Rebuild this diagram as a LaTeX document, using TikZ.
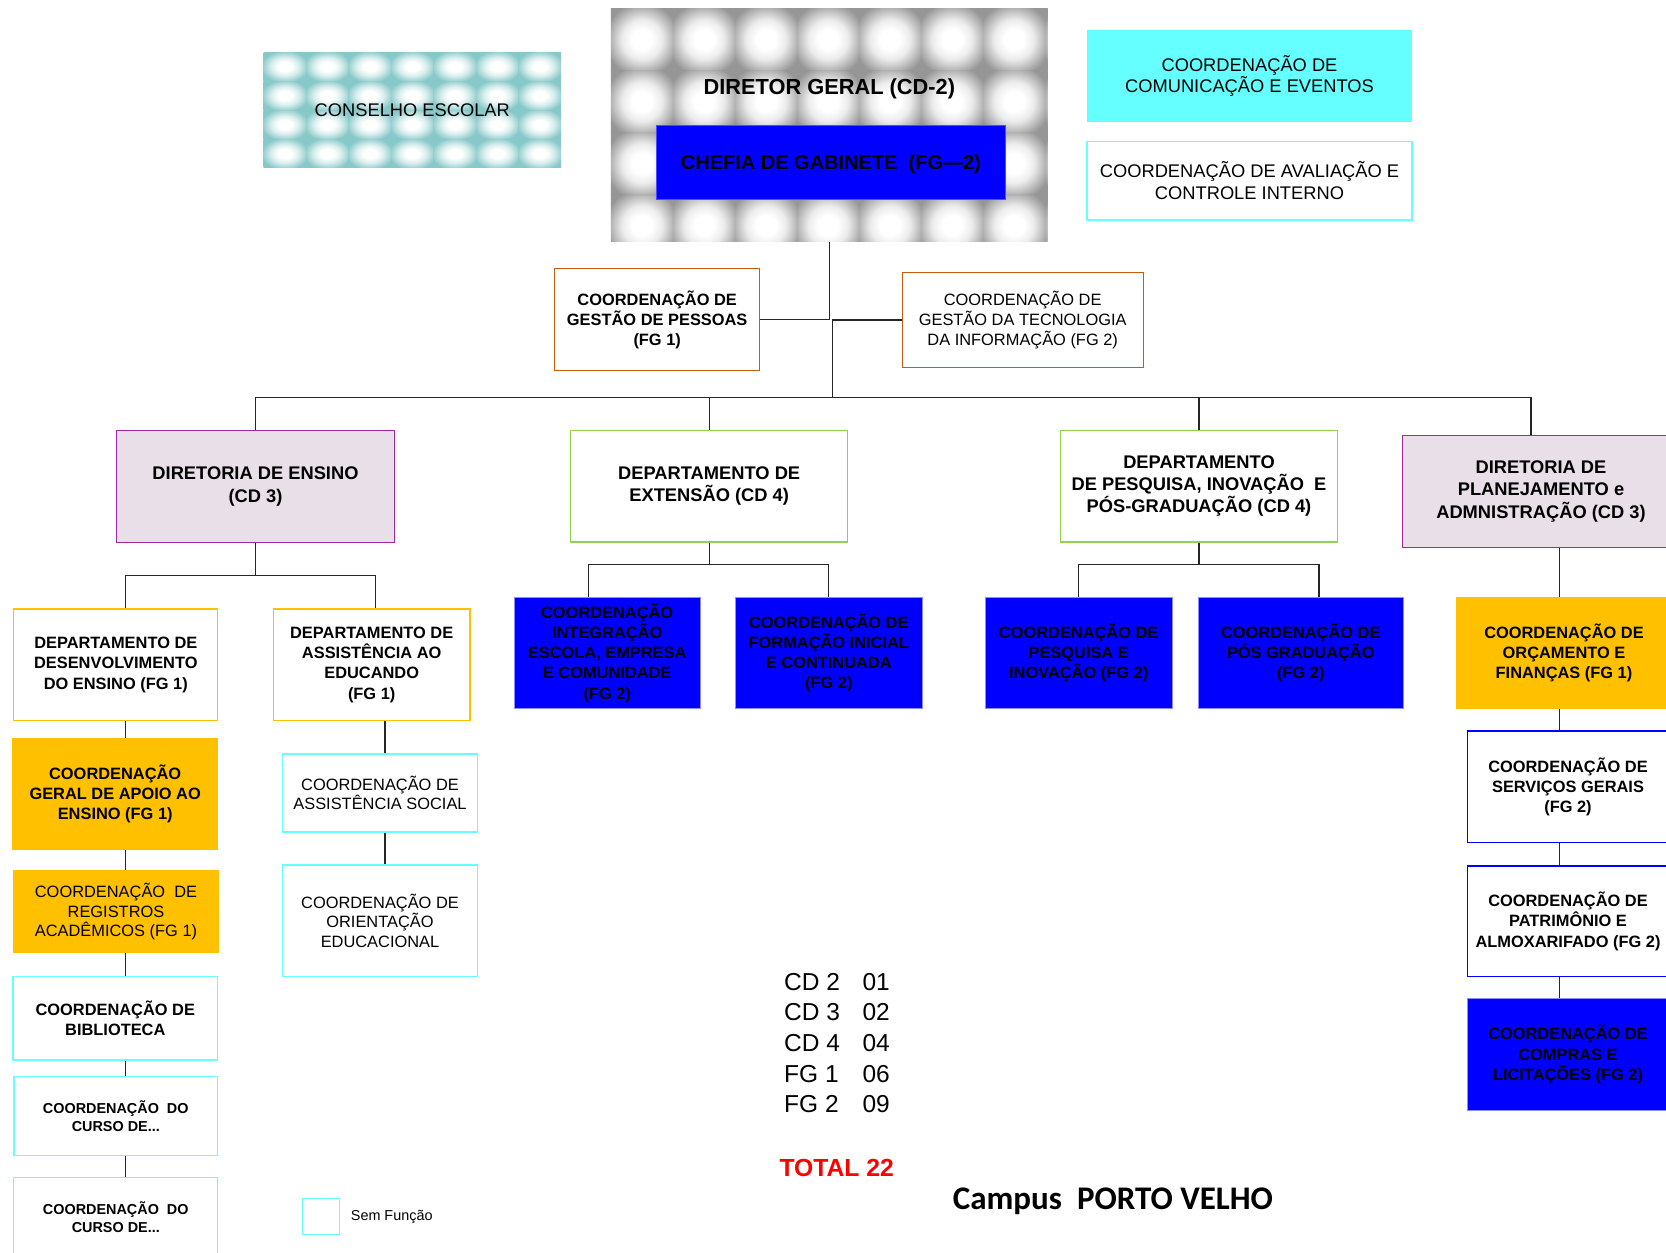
\documentclass[tikz,border=0pt]{standalone}
\usepackage{fontspec}
\setmainfont{Liberation Sans}
\newfontfamily\campusfont{Carlito}

\definecolor{lilac}{RGB}{232,223,232}
\definecolor{purpleline}{RGB}{160,40,160}
\definecolor{greenline}{RGB}{146,208,80}
\definecolor{amber}{RGB}{255,192,0}
\definecolor{rust}{RGB}{197,90,17}
\definecolor{aqua}{RGB}{102,255,255}
\definecolor{pureblue}{RGB}{0,0,255}
\definecolor{councilteal}{RGB}{135,200,200}
\definecolor{groove}{RGB}{150,150,150}

% pillow shadings for the two textured boxes
\pgfdeclareradialshading{pillowgray}{\pgfpoint{0bp}{0bp}}{color(0bp)=(white); color(8bp)=(white); color(16bp)=(gray!15); color(30bp)=(groove); color(50bp)=(groove)}
\pgfdeclareradialshading{pillowteal}{\pgfpoint{0bp}{0bp}}{color(0bp)=(white); color(8bp)=(white); color(16bp)=(councilteal!30); color(28bp)=(councilteal); color(50bp)=(councilteal)}

\newcommand{\dirfont}{\fontsize{18.3}{22.3}\selectfont\bfseries}
\newcommand{\coordfont}{\fontsize{16.4}{20.2}\selectfont\bfseries}
\newcommand{\plainfont}{\fontsize{16.4}{19.6}\selectfont}

\tikzset{
  box/.style={align=center, inner sep=2pt, line width=1.2pt},
  dirbox/.style={box, draw=purpleline, fill=lilac, font=\dirfont},
  deptbox/.style={box, draw=greenline, fill=white, font=\dirfont},
  yellowbox/.style={box, draw=amber, fill=white, font=\coordfont},
  amberbox/.style={box, draw=amber, fill=amber},
  bluebox/.style={box, draw=blue!45!white, line width=0.8pt, fill=pureblue, font=\coordfont},
  freebox/.style={box, draw=aqua},
  rustbox/.style={box, draw=rust, fill=white},
  outlinebox/.style={box, draw=pureblue, fill=white, font=\coordfont},
  link/.style={line width=1.2pt, draw=black!85}
}

\begin{document}
\begin{tikzpicture}[x=1pt,y=-1pt]
  \useasboundingbox (0,0) rectangle (1666,1253);

  % top row
  \node[box, minimum width=297.5pt, minimum height=115.8pt, font=\fontsize{18.3}{22}\selectfont,
    path picture={
      \fill[councilteal] (path picture bounding box.south west) rectangle (path picture bounding box.north east);
      \foreach \i in {0,...,6} \foreach \j in {0,...,3}
        \shade[shading=pillowteal] ([shift={(\i*42.5,\j*29)}]path picture bounding box.north west) rectangle ++(42.5,29);
    }] (conselho) at (412.3,110) {CONSELHO ESCOLAR};

  \node[box, minimum width=436.7pt, minimum height=232.7pt,
    path picture={
      \fill[groove] (path picture bounding box.south west) rectangle (path picture bounding box.north east);
      \foreach \i in {0,...,7} \foreach \j in {0,...,3}
        \shade[shading=pillowgray] ([shift={(\i*62,\j*62)}]path picture bounding box.north west) rectangle ++(62,62);
    }] (diretor) at (829.3,124.8) {};
  \node[font=\fontsize{21.8}{24}\selectfont\bfseries] (diretortxt) at (829.3,89) {DIRETOR GERAL (CD-2)};
  \node[box, draw=blue!70!white, line width=0.8pt, fill=pureblue, minimum width=348.5pt, minimum height=74.4pt,
    text depth=0pt, font=\fontsize{20}{24}\selectfont\bfseries] (chefia) at (830.9,162.6) {CHEFIA DE GABINETE~~(FG---2)};

  \node[box, fill=aqua, minimum width=325pt, minimum height=92.4pt, font=\fontsize{18.3}{21.3}\selectfont]
    (comunic) at (1249.5,76) {COORDENAÇÃO DE\\COMUNICAÇÃO E EVENTOS};
  \node[freebox, fill=white, minimum width=325pt, minimum height=78.6pt, font=\fontsize{18.3}{21.3}\selectfont]
    (avalia) at (1249.5,180.6) {COORDENAÇÃO DE AVALIAÇÃO E\\CONTROLE INTERNO};

  \node[rustbox, minimum width=205pt, minimum height=102pt, font=\coordfont]
    (pessoas) at (657.2,319.8) {COORDENAÇÃO DE\\GESTÃO DE PESSOAS\\(FG 1)};
  \node[rustbox, minimum width=241.2pt, minimum height=94.6pt, font=\plainfont]
    (tecnologia) at (1022.7,320) {COORDENAÇÃO DE\\GESTÃO DA TECNOLOGIA\\DA INFORMAÇÃO (FG 2)};

  % directorates and departments
  \node[dirbox, minimum width=278pt, minimum height=111.5pt] (ensino) at (255.5,486.5) {DIRETORIA DE ENSINO\\(CD 3)};
  \node[deptbox, minimum width=277.3pt, minimum height=111.6pt] (extensao) at (709.2,486.1) {DEPARTAMENTO DE\\EXTENSÃO (CD 4)};
  \node[deptbox, minimum width=277.3pt, minimum height=111.6pt] (pesqdep) at (1199,486.1) {DEPARTAMENTO\\DE PESQUISA, INOVAÇÃO~~E\\PÓS-GRADUAÇÃO (CD 4)};
  \node[dirbox, minimum width=277pt, minimum height=111.6pt] (plan) at (1541,491.4) {DIRETORIA DE\\PLANEJAMENTO e\\ADMNISTRAÇÃO (CD 3)};

  % ensino branch
  \node[yellowbox, minimum width=204pt, minimum height=111.7pt] (desenv) at (115.8,664.8) {DEPARTAMENTO DE\\DESENVOLVIMENTO\\DO ENSINO (FG 1)};
  \node[yellowbox, minimum width=196.7pt, minimum height=111.7pt] (educ) at (371.7,664.8) {DEPARTAMENTO DE\\ASSISTÊNCIA AO\\EDUCANDO\\(FG 1)};
  \node[amberbox, font=\coordfont, minimum width=205pt, minimum height=110pt] (apoio) at (115.2,794) {COORDENAÇÃO\\GERAL DE APOIO AO\\ENSINO (FG 1)};
  \node[amberbox, font=\plainfont, minimum width=205.7pt, minimum height=82pt] (registros) at (116,911.7) {COORDENAÇÃO~~DE\\REGISTROS\\ACADÊMICOS (FG 1)};
  \node[freebox, font=\coordfont, minimum width=204.7pt, minimum height=83.3pt] (biblio) at (115.3,1018.3) {COORDENAÇÃO DE\\BIBLIOTECA};
  \node[freebox, font=\fontsize{14.4}{18}\selectfont\bfseries, minimum width=203.7pt, minimum height=79pt] (cursoA) at (115.8,1116.2) {COORDENAÇÃO~ DO\\CURSO DE...};
  \node[freebox, font=\fontsize{14.4}{18}\selectfont\bfseries, minimum width=204pt, minimum height=79pt] (cursoB) at (115.8,1216.7) {COORDENAÇÃO~ DO\\CURSO DE...};
  \node[freebox, font=\plainfont, minimum width=194.7pt, minimum height=78pt] (social) at (380,793) {COORDENAÇÃO DE\\ASSISTÊNCIA SOCIAL};
  \node[freebox, font=\plainfont, minimum width=194.7pt, minimum height=111.7pt] (orient) at (380,920.8) {COORDENAÇÃO DE\\ORIENTAÇÃO\\EDUCACIONAL};

  % extensao and pesquisa branches
  \node[bluebox, minimum width=186pt, minimum height=111.6pt] (integra) at (607.2,653) {COORDENAÇÃO\\INTEGRAÇÃO\\ESCOLA, EMPRESA\\E COMUNIDADE\\(FG 2)};
  \node[bluebox, minimum width=187pt, minimum height=111.6pt] (formacao) at (828.8,653) {COORDENAÇÃO DE\\FORMAÇÃO INICIAL\\E CONTINUADA\\(FG 2)};
  \node[bluebox, minimum width=187.3pt, minimum height=111.6pt] (pesqinov) at (1078.7,653) {COORDENAÇÃO DE\\PESQUISA E\\INOVAÇÃO (FG 2)};
  \node[bluebox, minimum width=205pt, minimum height=111.6pt] (posgrad) at (1300.8,653) {COORDENAÇÃO DE\\PÓS GRADUAÇÃO\\(FG 2)};

  % planejamento branch
  \node[amberbox, font=\coordfont, minimum width=214.6pt, minimum height=111.6pt] (orcamento) at (1564,652.9) {COORDENAÇÃO DE\\ORÇAMENTO E\\FINANÇAS (FG 1)};
  \node[outlinebox, minimum width=201.4pt, minimum height=111.6pt] (servicos) at (1568,786.8) {COORDENAÇÃO DE\\SERVIÇOS GERAIS\\(FG 2)};
  \node[outlinebox, minimum width=201.4pt, minimum height=110.4pt] (patrimonio) at (1568,921.2) {COORDENAÇÃO DE\\PATRIMÔNIO E\\ALMOXARIFADO (FG 2)};
  \node[bluebox, minimum width=201.4pt, minimum height=111.6pt] (compras) at (1568,1054.5) {COORDENAÇÃO DE\\COMPRAS E\\LICITAÇÕES (FG 2)};

  % connectors
  \coordinate (bus) at (832.5,397.4);
  \coordinate (dropP) at (1531,397.4);
  \draw[link] (diretor.south) |- (pessoas.east);
  \draw[link] (tecnologia.west) -| (bus);
  \draw[link] (ensino.north |- bus) -- (dropP) -- (dropP |- plan.north);
  \foreach \n in {ensino, extensao, pesqdep}
    \draw[link] (\n.north |- bus) -- (\n.north);

  \coordinate (colL) at (125.5,0);
  \coordinate (colE) at (375.7,0);
  \coordinate (colS) at (385,0);
  \coordinate (ensJ) at (255.5,575.7);
  \draw[link] (ensino.south) -- (ensJ);
  \draw[link] (desenv.north -| colL) |- (ensJ) -| (educ.north -| colE);
  \foreach \a/\b in {desenv/apoio, apoio/registros, registros/biblio, biblio/cursoA, cursoA/cursoB}
    \draw[link] (\a.south -| colL) -- (\b.north -| colL);
  \draw[link] (educ.south -| colS) -- (social.north -| colS);
  \draw[link] (social.south -| colS) -- (orient.north -| colS);

  \coordinate (colI) at (588.4,0);
  \coordinate (colP) at (1319,0);
  \coordinate (extJ) at (709.2,564.2);
  \coordinate (pesJ) at (1199,564.2);
  \draw[link] (extensao.south) -- (extJ);
  \draw[link] (integra.north -| colI) |- (extJ) -| (formacao.north);
  \draw[link] (pesqdep.south) -- (pesJ);
  \draw[link] (pesqinov.north) |- (pesJ) -| (posgrad.north -| colP);

  \coordinate (colR) at (1559.75,0);
  \foreach \a/\b in {plan/orcamento, orcamento/servicos, servicos/patrimonio, patrimonio/compras}
    \draw[link] (\a.south -| colR) -- (\b.north -| colR);

  % legend and totals
  \node[freebox, minimum width=36.6pt, minimum height=36pt] (semf) at (321,1216.3) {};
  \node[anchor=west, inner sep=0pt, font=\fontsize{14.4}{17}\selectfont] (semftxt) at (350.7,1216.7) {Sem Função};

  \node[anchor=north west, inner sep=0pt, font=\fontsize{24.5}{30.6}\selectfont] (totais) at (784,968.6) {%
    \begin{tabular}{@{}l@{\hspace{22.5pt}}l@{}}
      CD 2 & 01\\
      CD 3 & 02\\
      CD 4 & 04\\
      FG 1 & 06\\
      FG 2 & 09
    \end{tabular}};
  \node[anchor=base west, inner sep=0pt, text=red, font=\fontsize{24.7}{28}\selectfont\bfseries] (total) at (779.3,1176) {TOTAL 22};
  \node[anchor=base west, inner sep=0pt, font=\fontsize{33}{38}\selectfont\campusfont\bfseries] (campus) at (952.7,1209.3) {Campus~~PORTO VELHO};
\end{tikzpicture}
\end{document}
